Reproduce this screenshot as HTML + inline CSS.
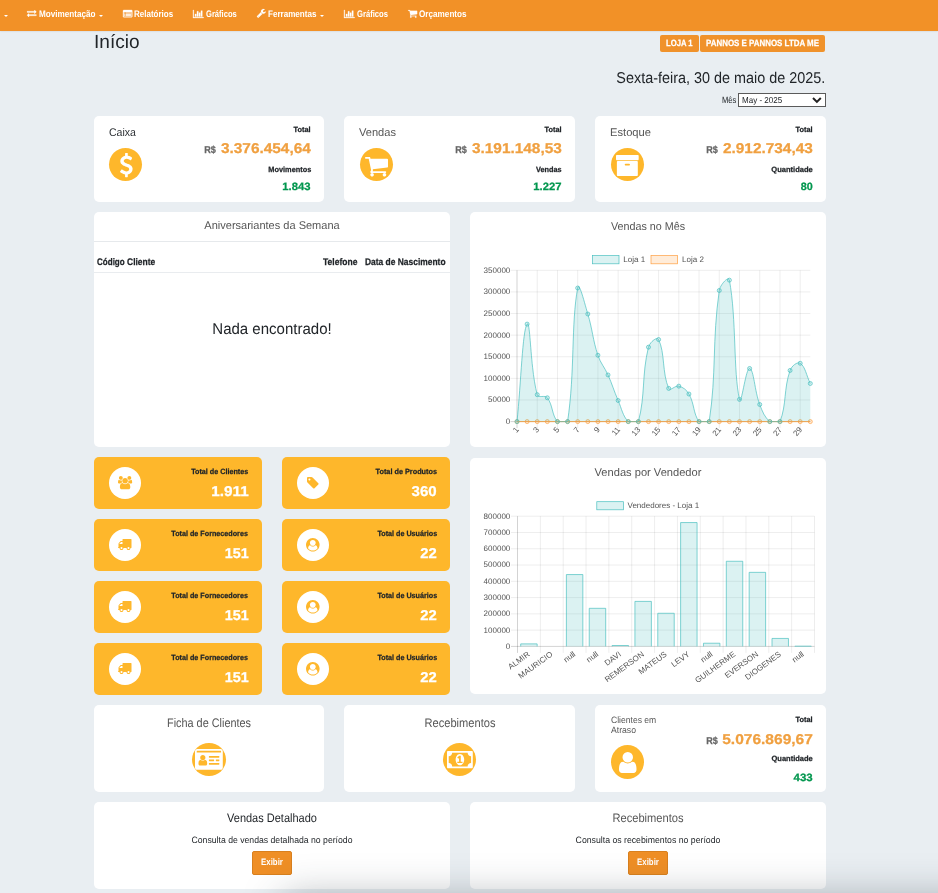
<!DOCTYPE html>
<html lang="pt-BR"><head><meta charset="utf-8"><title>Início</title>
<style>
html,body{margin:0;padding:0}
body{width:938px;height:893px;overflow:hidden;background:#e9eef2;position:relative;font-family:"Liberation Sans",sans-serif;text-rendering:geometricPrecision}
.b{position:absolute;display:block}
.t{position:absolute;white-space:nowrap;display:block}
svg.b{overflow:visible}
svg text{font-family:"Liberation Sans",sans-serif;text-rendering:geometricPrecision}
</style></head><body>
<div class="b" style="left:0;top:0;width:938px;height:30.5px;background:#f29127;box-shadow:0 0 2px rgba(0,0,0,.15)"></div>
<div class="b" style="left:3.6px;top:14.6px;width:0;height:0;border-top:2.2px solid #fff;border-left:2px solid transparent;border-right:2px solid transparent"></div>
<svg class="b" style="left:27.00px;top:10.47px" width="9.40" height="7.05" viewBox="0 -1248 1792 1344"><path transform="scale(1,-1)" fill="#fff" stroke="#fff" stroke-width="40" d="M1792 352V160Q1792 147 1782.5 137.5Q1773 128 1760 128H384V-64Q384 -77 374.5 -86.5Q365 -96 352 -96Q340 -96 328 -86L9 234Q0 243 0 256Q0 270 9 279L329 599Q338 608 352 608Q365 608 374.5 598.5Q384 589 384 576V384H1760Q1773 384 1782.5 374.5Q1792 365 1792 352ZM1783 873 1463 553Q1454 544 1440 544Q1427 544 1417.5 553.5Q1408 563 1408 576V768H32Q19 768 9.5 777.5Q0 787 0 800V992Q0 1005 9.5 1014.5Q19 1024 32 1024H1408V1216Q1408 1230 1417.0 1239.0Q1426 1248 1440 1248Q1452 1248 1464 1238L1783 919Q1792 910 1792.0 896.0Q1792 882 1783 873Z"/></svg>
<div class="t" style="left:38.60px;top:10.00px;font-size:9.5px;line-height:9.5px;color:#fff;font-weight:bold;transform:scaleX(0.8577);transform-origin:left center;">Movimentação</div>
<div class="b" style="left:99.2px;top:14.6px;width:0;height:0;border-top:2.2px solid #fff;border-left:2px solid transparent;border-right:2px solid transparent"></div>
<svg class="b" style="left:122.85px;top:9.85px" width="9.30" height="7.31" viewBox="0 -1408 1792 1408"><path transform="scale(1,-1)" fill="#fff" stroke="#fff" stroke-width="60" d="M384 352V288Q384 275 374.5 265.5Q365 256 352 256H288Q275 256 265.5 265.5Q256 275 256 288V352Q256 365 265.5 374.5Q275 384 288 384H352Q365 384 374.5 374.5Q384 365 384 352ZM384 608V544Q384 531 374.5 521.5Q365 512 352 512H288Q275 512 265.5 521.5Q256 531 256 544V608Q256 621 265.5 630.5Q275 640 288 640H352Q365 640 374.5 630.5Q384 621 384 608ZM384 864V800Q384 787 374.5 777.5Q365 768 352 768H288Q275 768 265.5 777.5Q256 787 256 800V864Q256 877 265.5 886.5Q275 896 288 896H352Q365 896 374.5 886.5Q384 877 384 864ZM1536 352V288Q1536 275 1526.5 265.5Q1517 256 1504 256H544Q531 256 521.5 265.5Q512 275 512 288V352Q512 365 521.5 374.5Q531 384 544 384H1504Q1517 384 1526.5 374.5Q1536 365 1536 352ZM1536 608V544Q1536 531 1526.5 521.5Q1517 512 1504 512H544Q531 512 521.5 521.5Q512 531 512 544V608Q512 621 521.5 630.5Q531 640 544 640H1504Q1517 640 1526.5 630.5Q1536 621 1536 608ZM1536 864V800Q1536 787 1526.5 777.5Q1517 768 1504 768H544Q531 768 521.5 777.5Q512 787 512 800V864Q512 877 521.5 886.5Q531 896 544 896H1504Q1517 896 1526.5 886.5Q1536 877 1536 864ZM1664 160V992Q1664 1005 1654.5 1014.5Q1645 1024 1632 1024H160Q147 1024 137.5 1014.5Q128 1005 128 992V160Q128 147 137.5 137.5Q147 128 160 128H1632Q1645 128 1654.5 137.5Q1664 147 1664 160ZM1792 1248V160Q1792 94 1745.0 47.0Q1698 0 1632 0H160Q94 0 47.0 47.0Q0 94 0 160V1248Q0 1314 47.0 1361.0Q94 1408 160 1408H1632Q1698 1408 1745.0 1361.0Q1792 1314 1792 1248Z"/></svg>
<div class="t" style="left:134.30px;top:10.00px;font-size:9.5px;line-height:9.5px;color:#fff;font-weight:bold;transform:scaleX(0.8416);transform-origin:left center;">Relatórios</div>
<svg class="b" style="left:193.20px;top:10.03px" width="10.60" height="7.95" viewBox="0 -1408 2048 1536"><path transform="scale(1,-1)" fill="#fff" stroke="#fff" stroke-width="60" d="M640 640V128H384V640ZM1024 1152V128H768V1152ZM2048 0V-128H0V1408H128V0ZM1408 896V128H1152V896ZM1792 1280V128H1536V1280Z"/></svg>
<div class="t" style="left:206.20px;top:10.00px;font-size:9.5px;line-height:9.5px;color:#fff;font-weight:bold;transform:scaleX(0.7991);transform-origin:left center;">Gráficos</div>
<svg class="b" style="left:257.45px;top:9.14px" width="8.70" height="8.71" viewBox="21 -1408 1641 1643"><path transform="scale(1,-1)" fill="#fff" stroke="#fff" stroke-width="30" d="M365.0 19.0Q384 38 384.0 64.0Q384 90 365.0 109.0Q346 128 320.0 128.0Q294 128 275.0 109.0Q256 90 256.0 64.0Q256 38 275.0 19.0Q294 0 320.0 0.0Q346 0 365.0 19.0ZM1028 484 346 -198Q309 -235 256 -235Q204 -235 165 -198L59 -90Q21 -54 21 0Q21 53 59 91L740 772Q779 674 854.5 598.5Q930 523 1028 484ZM1662 919Q1662 880 1639 813Q1592 679 1474.5 595.5Q1357 512 1216 512Q1031 512 899.5 643.5Q768 775 768.0 960.0Q768 1145 899.5 1276.5Q1031 1408 1216 1408Q1274 1408 1337.5 1391.5Q1401 1375 1445 1345Q1461 1334 1461.0 1317.0Q1461 1300 1445 1289L1152 1120V896L1345 789Q1350 792 1424.0 837.5Q1498 883 1559.5 918.5Q1621 954 1630 954Q1645 954 1653.5 944.0Q1662 934 1662 919Z"/></svg>
<div class="t" style="left:268.40px;top:10.00px;font-size:9.5px;line-height:9.5px;color:#fff;font-weight:bold;transform:scaleX(0.8487);transform-origin:left center;">Ferramentas</div>
<div class="b" style="left:320px;top:14.6px;width:0;height:0;border-top:2.2px solid #fff;border-left:2px solid transparent;border-right:2px solid transparent"></div>
<svg class="b" style="left:344.10px;top:10.03px" width="10.60" height="7.95" viewBox="0 -1408 2048 1536"><path transform="scale(1,-1)" fill="#fff" stroke="#fff" stroke-width="60" d="M640 640V128H384V640ZM1024 1152V128H768V1152ZM2048 0V-128H0V1408H128V0ZM1408 896V128H1152V896ZM1792 1280V128H1536V1280Z"/></svg>
<div class="t" style="left:357.20px;top:10.00px;font-size:9.5px;line-height:9.5px;color:#fff;font-weight:bold;transform:scaleX(0.8043);transform-origin:left center;">Gráficos</div>
<svg class="b" style="left:408.40px;top:9.61px" width="9.20" height="7.78" viewBox="0.0 -1280 1664.0 1408.0"><path transform="scale(1,-1)" fill="#fff" stroke="#fff" stroke-width="30" d="M602.0 90.0Q640 52 640.0 0.0Q640 -52 602.0 -90.0Q564 -128 512.0 -128.0Q460 -128 422.0 -90.0Q384 -52 384.0 0.0Q384 52 422.0 90.0Q460 128 512.0 128.0Q564 128 602.0 90.0ZM1498.0 90.0Q1536 52 1536.0 0.0Q1536 -52 1498.0 -90.0Q1460 -128 1408.0 -128.0Q1356 -128 1318.0 -90.0Q1280 -52 1280.0 0.0Q1280 52 1318.0 90.0Q1356 128 1408.0 128.0Q1460 128 1498.0 90.0ZM1664 1088V576Q1664 552 1647.5 533.5Q1631 515 1607 512L563 390Q576 330 576 320Q576 304 552 256H1472Q1498 256 1517.0 237.0Q1536 218 1536.0 192.0Q1536 166 1517.0 147.0Q1498 128 1472 128H448Q422 128 403.0 147.0Q384 166 384 192Q384 203 392.0 223.5Q400 244 408.0 259.5Q416 275 429.5 299.5Q443 324 445 329L268 1152H64Q38 1152 19.0 1171.0Q0 1190 0.0 1216.0Q0 1242 19.0 1261.0Q38 1280 64 1280H320Q336 1280 348.5 1273.5Q361 1267 368.0 1258.0Q375 1249 381.0 1233.5Q387 1218 389.0 1207.5Q391 1197 394.5 1178.0Q398 1159 399 1152H1600Q1626 1152 1645.0 1133.0Q1664 1114 1664 1088Z"/></svg>
<div class="t" style="left:419.10px;top:10.00px;font-size:9.5px;line-height:9.5px;color:#fff;font-weight:bold;transform:scaleX(0.8586);transform-origin:left center;">Orçamentos</div>
<div class="t" style="left:94.20px;top:33.00px;font-size:19.0px;line-height:19.0px;color:#212529;transform:scaleX(1.0019);transform-origin:left center;">Início</div>
<div class="b" style="left:660px;top:35px;width:39px;height:17px;background:#f0922b;border-radius:2px;"></div>
<div class="t" style="left:666.00px;top:39.00px;font-size:9.0px;line-height:9.0px;color:#fff;font-weight:bold;-webkit-text-stroke:0.25px;transform:scaleX(0.8532);transform-origin:left center;">LOJA 1</div>
<div class="b" style="left:700px;top:35px;width:125px;height:17px;background:#f0922b;border-radius:2px;"></div>
<div class="t" style="left:706.00px;top:39.00px;font-size:9.0px;line-height:9.0px;color:#fff;font-weight:bold;-webkit-text-stroke:0.25px;transform:scaleX(0.8816);transform-origin:left center;">PANNOS E PANNOS LTDA ME</div>
<div class="t" style="right:112.30px;top:71.00px;font-size:15.6px;line-height:15.6px;color:#212529;transform:scaleX(0.9233);transform-origin:right center;">Sexta-feira, 30 de maio de 2025.</div>
<div class="t" style="left:721.50px;top:96.00px;font-size:9.0px;line-height:9.0px;color:#212529;transform:scaleX(0.8410);transform-origin:left center;">Mês</div>
<div class="b" style="left:738px;top:93px;width:88px;height:14px;background:#fff;border:1px solid #5a5a5a;box-sizing:border-box"></div>
<div class="t" style="left:742.00px;top:96.00px;font-size:8.6px;line-height:8.6px;color:#212529;transform:scaleX(0.9344);transform-origin:left center;">May - 2025</div>
<svg class="b" style="left:812.2px;top:97.4px" width="9.8" height="6.4" viewBox="0 0 9.8 6.4"><path d="M1 1 L4.9 4.9 L8.8 1" fill="none" stroke="#222" stroke-width="2"/></svg>
<div class="b" style="left:94px;top:116px;width:230px;height:86px;background:#fff;border-radius:5px;"></div>
<div class="t" style="left:109.10px;top:128.00px;font-size:11.2px;line-height:11.2px;color:#2b2f33;transform:scaleX(0.9429);transform-origin:left center;">Caixa</div>
<div class="b" style="left:108.90px;top:147.90px;width:33.20px;height:33.20px;border-radius:50%;background:#feb72b"></div>
<svg class="b" style="left:119.50px;top:153.20px" width="12.60" height="24.20" viewBox="44.96875 -1536 933.03125 1792"><path transform="scale(1,-1)" fill="#fff" d="M978 351Q978 198 878.5 87.5Q779 -23 620 -49V-224Q620 -238 611.0 -247.0Q602 -256 588 -256H453Q440 -256 430.5 -246.5Q421 -237 421 -224V-49Q355 -40 293.5 -18.0Q232 4 192.0 26.5Q152 49 118.0 74.5Q84 100 71.5 112.0Q59 124 54 130Q37 151 52 171L155 306Q162 316 178 318Q193 320 202 309Q202 309 204 307Q317 208 447 182Q484 174 521 174Q602 174 663.5 217.0Q725 260 725 339Q725 367 710.0 392.0Q695 417 676.5 434.0Q658 451 618.0 471.5Q578 492 552.0 503.5Q526 515 472 536Q433 552 410.5 561.0Q388 570 349.0 587.5Q310 605 286.5 618.5Q263 632 230.0 654.0Q197 676 176.5 696.5Q156 717 133.0 745.5Q110 774 97.5 803.5Q85 833 76.5 870.0Q68 907 68 948Q68 1086 166.0 1190.0Q264 1294 421 1324V1504Q421 1517 430.5 1526.5Q440 1536 453 1536H588Q602 1536 611.0 1527.0Q620 1518 620 1504V1328Q677 1322 730.5 1305.0Q784 1288 817.5 1271.5Q851 1255 881.0 1234.0Q911 1213 920.0 1205.0Q929 1197 935 1191Q952 1173 940 1153L859 1007Q851 992 836 991Q822 988 809 998Q806 1001 794.5 1010.0Q783 1019 755.5 1036.5Q728 1054 697.0 1068.5Q666 1083 622.5 1094.5Q579 1106 537 1106Q442 1106 382.0 1063.0Q322 1020 322 952Q322 926 330.5 904.0Q339 882 360.0 862.5Q381 843 399.5 829.5Q418 816 455.5 798.5Q493 781 516.0 771.5Q539 762 586 744Q639 724 667.0 712.5Q695 701 743.0 677.5Q791 654 818.5 635.0Q846 616 880.5 585.0Q915 554 933.5 521.5Q952 489 965.0 445.0Q978 401 978 351Z"/></svg>
<div class="t" style="right:627.00px;top:126.00px;font-size:7.6px;line-height:7.6px;color:#212529;font-weight:bold;-webkit-text-stroke:0.25px;transform:scaleX(0.9664);transform-origin:right center;">Total</div>
<div class="t" style="right:627.00px;top:142.00px;font-size:14.2px;line-height:14.2px;color:#f0a040;font-weight:bold;-webkit-text-stroke:0.25px;transform:scaleX(1.0855);transform-origin:right center;">3.376.454,64</div>
<div class="t" style="right:722.00px;top:146.00px;font-size:10.0px;line-height:10.0px;color:#666;font-weight:bold;-webkit-text-stroke:0.25px;transform:scaleX(0.9074);transform-origin:right center;">R$</div>
<div class="t" style="right:627.00px;top:166.00px;font-size:7.6px;line-height:7.6px;color:#212529;font-weight:bold;-webkit-text-stroke:0.25px;transform:scaleX(0.9698);transform-origin:right center;">Movimentos</div>
<div class="t" style="right:627.00px;top:182.00px;font-size:10.6px;line-height:10.6px;color:#00964e;font-weight:bold;-webkit-text-stroke:0.25px;transform:scaleX(1.0631);transform-origin:right center;">1.843</div>
<div class="b" style="left:344px;top:116px;width:231px;height:86px;background:#fff;border-radius:5px;"></div>
<div class="t" style="left:359.10px;top:128.00px;font-size:11.2px;line-height:11.2px;color:#555;transform:scaleX(0.9901);transform-origin:left center;">Vendas</div>
<div class="b" style="left:359.90px;top:147.90px;width:33.20px;height:33.20px;border-radius:50%;background:#feb72b"></div>
<svg class="b" style="left:365.00px;top:156.57px" width="23.00" height="19.46" viewBox="0.0 -1280 1664.0 1408.0"><path transform="scale(1,-1)" fill="#fff" d="M602.0 90.0Q640 52 640.0 0.0Q640 -52 602.0 -90.0Q564 -128 512.0 -128.0Q460 -128 422.0 -90.0Q384 -52 384.0 0.0Q384 52 422.0 90.0Q460 128 512.0 128.0Q564 128 602.0 90.0ZM1498.0 90.0Q1536 52 1536.0 0.0Q1536 -52 1498.0 -90.0Q1460 -128 1408.0 -128.0Q1356 -128 1318.0 -90.0Q1280 -52 1280.0 0.0Q1280 52 1318.0 90.0Q1356 128 1408.0 128.0Q1460 128 1498.0 90.0ZM1664 1088V576Q1664 552 1647.5 533.5Q1631 515 1607 512L563 390Q576 330 576 320Q576 304 552 256H1472Q1498 256 1517.0 237.0Q1536 218 1536.0 192.0Q1536 166 1517.0 147.0Q1498 128 1472 128H448Q422 128 403.0 147.0Q384 166 384 192Q384 203 392.0 223.5Q400 244 408.0 259.5Q416 275 429.5 299.5Q443 324 445 329L268 1152H64Q38 1152 19.0 1171.0Q0 1190 0.0 1216.0Q0 1242 19.0 1261.0Q38 1280 64 1280H320Q336 1280 348.5 1273.5Q361 1267 368.0 1258.0Q375 1249 381.0 1233.5Q387 1218 389.0 1207.5Q391 1197 394.5 1178.0Q398 1159 399 1152H1600Q1626 1152 1645.0 1133.0Q1664 1114 1664 1088Z"/></svg>
<div class="t" style="right:376.00px;top:126.00px;font-size:7.6px;line-height:7.6px;color:#212529;font-weight:bold;-webkit-text-stroke:0.25px;transform:scaleX(0.9664);transform-origin:right center;">Total</div>
<div class="t" style="right:376.00px;top:142.00px;font-size:14.2px;line-height:14.2px;color:#f0a040;font-weight:bold;-webkit-text-stroke:0.25px;transform:scaleX(1.0855);transform-origin:right center;">3.191.148,53</div>
<div class="t" style="right:471.00px;top:146.00px;font-size:10.0px;line-height:10.0px;color:#666;font-weight:bold;-webkit-text-stroke:0.25px;transform:scaleX(0.9074);transform-origin:right center;">R$</div>
<div class="t" style="right:376.00px;top:166.00px;font-size:7.6px;line-height:7.6px;color:#212529;font-weight:bold;-webkit-text-stroke:0.25px;transform:scaleX(0.9618);transform-origin:right center;">Vendas</div>
<div class="t" style="right:376.00px;top:182.00px;font-size:10.6px;line-height:10.6px;color:#00964e;font-weight:bold;-webkit-text-stroke:0.25px;transform:scaleX(1.0631);transform-origin:right center;">1.227</div>
<div class="b" style="left:595px;top:116px;width:231px;height:86px;background:#fff;border-radius:5px;"></div>
<div class="t" style="left:610.10px;top:128.00px;font-size:11.2px;line-height:11.2px;color:#555;transform:scaleX(0.9976);transform-origin:left center;">Estoque</div>
<div class="b" style="left:610.80px;top:147.90px;width:33.20px;height:33.20px;border-radius:50%;background:#feb72b"></div>
<svg class="b" style="left:615.95px;top:155.02px" width="22.70" height="20.95" viewBox="64 -1408 1664 1536"><path transform="scale(1,-1)" fill="#fff" d="M1024 768H768Q742 768 723.0 749.0Q704 730 704.0 704.0Q704 678 723.0 659.0Q742 640 768 640H1024Q1050 640 1069.0 659.0Q1088 678 1088.0 704.0Q1088 730 1069.0 749.0Q1050 768 1024 768ZM1664 896V-64Q1664 -90 1645.0 -109.0Q1626 -128 1600 -128H192Q166 -128 147.0 -109.0Q128 -90 128 -64V896Q128 922 147.0 941.0Q166 960 192 960H1600Q1626 960 1645.0 941.0Q1664 922 1664 896ZM1728 1344V1088Q1728 1062 1709.0 1043.0Q1690 1024 1664 1024H128Q102 1024 83.0 1043.0Q64 1062 64 1088V1344Q64 1370 83.0 1389.0Q102 1408 128 1408H1664Q1690 1408 1709.0 1389.0Q1728 1370 1728 1344Z"/></svg>
<div class="t" style="right:125.00px;top:126.00px;font-size:7.6px;line-height:7.6px;color:#212529;font-weight:bold;-webkit-text-stroke:0.25px;transform:scaleX(0.9664);transform-origin:right center;">Total</div>
<div class="t" style="right:125.00px;top:142.00px;font-size:14.2px;line-height:14.2px;color:#f0a040;font-weight:bold;-webkit-text-stroke:0.25px;transform:scaleX(1.0855);transform-origin:right center;">2.912.734,43</div>
<div class="t" style="right:220.00px;top:146.00px;font-size:10.0px;line-height:10.0px;color:#666;font-weight:bold;-webkit-text-stroke:0.25px;transform:scaleX(0.9074);transform-origin:right center;">R$</div>
<div class="t" style="right:125.00px;top:166.00px;font-size:7.6px;line-height:7.6px;color:#212529;font-weight:bold;-webkit-text-stroke:0.25px;transform:scaleX(0.9927);transform-origin:right center;">Quantidade</div>
<div class="t" style="right:125.00px;top:182.00px;font-size:10.6px;line-height:10.6px;color:#00964e;font-weight:bold;-webkit-text-stroke:0.25px;transform:scaleX(1.0177);transform-origin:right center;">80</div>
<div class="b" style="left:94px;top:212px;width:356px;height:235px;background:#fff;border-radius:5px;"></div>
<div class="t" style="left:-228.00px;width:1000px;text-align:center;top:221.00px;font-size:11.2px;line-height:11.2px;color:#555;transform:scaleX(0.9848);transform-origin:center center;">Aniversariantes da Semana</div>
<div class="b" style="left:94px;top:241px;width:356px;height:1px;background:#e6e9ec"></div>
<div class="t" style="left:97.10px;top:258.00px;font-size:9.6px;line-height:9.6px;color:#212529;font-weight:bold;-webkit-text-stroke:0.25px;transform:scaleX(0.8379);transform-origin:left center;">Código</div>
<div class="t" style="left:126.90px;top:258.00px;font-size:9.6px;line-height:9.6px;color:#212529;font-weight:bold;-webkit-text-stroke:0.25px;transform:scaleX(0.8842);transform-origin:left center;">Cliente</div>
<div class="t" style="left:322.70px;top:258.00px;font-size:9.6px;line-height:9.6px;color:#212529;font-weight:bold;-webkit-text-stroke:0.25px;transform:scaleX(0.8875);transform-origin:left center;">Telefone</div>
<div class="t" style="left:365.20px;top:258.00px;font-size:9.6px;line-height:9.6px;color:#212529;font-weight:bold;-webkit-text-stroke:0.25px;transform:scaleX(0.8783);transform-origin:left center;">Data de Nascimento</div>
<div class="b" style="left:94px;top:272px;width:356px;height:1px;background:#e9ecef"></div>
<div class="t" style="left:-228.00px;width:1000px;text-align:center;top:322.00px;font-size:15.6px;line-height:15.6px;color:#212529;transform:scaleX(0.9627);transform-origin:center center;">Nada encontrado!</div>
<div class="b" style="left:94px;top:457px;width:168px;height:52px;background:#feb72b;border-radius:5px;"></div>
<div class="b" style="left:109.00px;top:467.00px;width:32.00px;height:32.00px;border-radius:50%;background:#fff"></div>
<svg class="b" style="left:117.90px;top:475.87px" width="14.20" height="13.25" viewBox="0 -1536.0 1920 1792.0"><path transform="scale(1,-1)" fill="#feb72b" d="M593 640Q431 635 328 512H194Q112 512 56.0 552.5Q0 593 0 671Q0 1024 124 1024Q130 1024 167.5 1003.0Q205 982 265.0 960.5Q325 939 384 939Q451 939 517 962Q512 925 512 896Q512 757 593 640ZM1664 3Q1664 -117 1591.0 -186.5Q1518 -256 1397 -256H523Q402 -256 329.0 -186.5Q256 -117 256 3Q256 56 259.5 106.5Q263 157 273.5 215.5Q284 274 300.0 324.0Q316 374 343.0 421.5Q370 469 405.0 502.5Q440 536 490.5 556.0Q541 576 602 576Q612 576 645.0 554.5Q678 533 718.0 506.5Q758 480 825.0 458.5Q892 437 960.0 437.0Q1028 437 1095.0 458.5Q1162 480 1202.0 506.5Q1242 533 1275.0 554.5Q1308 576 1318 576Q1379 576 1429.5 556.0Q1480 536 1515.0 502.5Q1550 469 1577.0 421.5Q1604 374 1620.0 324.0Q1636 274 1646.5 215.5Q1657 157 1660.5 106.5Q1664 56 1664 3ZM565.0 1461.0Q640 1386 640.0 1280.0Q640 1174 565.0 1099.0Q490 1024 384.0 1024.0Q278 1024 203.0 1099.0Q128 1174 128.0 1280.0Q128 1386 203.0 1461.0Q278 1536 384.0 1536.0Q490 1536 565.0 1461.0ZM1231.5 1167.5Q1344 1055 1344.0 896.0Q1344 737 1231.5 624.5Q1119 512 960.0 512.0Q801 512 688.5 624.5Q576 737 576.0 896.0Q576 1055 688.5 1167.5Q801 1280 960.0 1280.0Q1119 1280 1231.5 1167.5ZM1920 671Q1920 593 1864.0 552.5Q1808 512 1726 512H1592Q1489 635 1327 640Q1408 757 1408 896Q1408 925 1403 962Q1469 939 1536 939Q1595 939 1655.0 960.5Q1715 982 1752.5 1003.0Q1790 1024 1796 1024Q1920 1024 1920 671ZM1717.0 1461.0Q1792 1386 1792.0 1280.0Q1792 1174 1717.0 1099.0Q1642 1024 1536.0 1024.0Q1430 1024 1355.0 1099.0Q1280 1174 1280.0 1280.0Q1280 1386 1355.0 1461.0Q1430 1536 1536.0 1536.0Q1642 1536 1717.0 1461.0Z"/></svg>
<div class="t" style="right:690.00px;top:468.00px;font-size:7.6px;line-height:7.6px;color:#212529;font-weight:bold;-webkit-text-stroke:0.25px;transform:scaleX(0.9477);transform-origin:right center;">Total de Clientes</div>
<div class="t" style="right:689.70px;top:485.00px;font-size:14.2px;line-height:14.2px;color:#fff;font-weight:bold;-webkit-text-stroke:0.25px;transform:scaleX(1.0791);transform-origin:right center;">1.911</div>
<div class="b" style="left:282px;top:457px;width:168px;height:52px;background:#feb72b;border-radius:5px;"></div>
<div class="b" style="left:297.00px;top:467.00px;width:32.00px;height:32.00px;border-radius:50%;background:#fff"></div>
<svg class="b" style="left:307.20px;top:476.70px" width="11.60" height="11.60" viewBox="0 -1408 1515 1515"><path transform="scale(1,-1)" fill="#feb72b" d="M410.5 997.5Q448 1035 448.0 1088.0Q448 1141 410.5 1178.5Q373 1216 320.0 1216.0Q267 1216 229.5 1178.5Q192 1141 192.0 1088.0Q192 1035 229.5 997.5Q267 960 320.0 960.0Q373 960 410.5 997.5ZM1515 512Q1515 459 1478 422L987 -70Q948 -107 896 -107Q843 -107 806 -70L91 646Q53 683 26.5 747.0Q0 811 0 864V1280Q0 1332 38.0 1370.0Q76 1408 128 1408H544Q597 1408 661.0 1381.5Q725 1355 763 1317L1478 603Q1515 564 1515 512Z"/></svg>
<div class="t" style="right:501.30px;top:468.00px;font-size:7.6px;line-height:7.6px;color:#212529;font-weight:bold;-webkit-text-stroke:0.25px;transform:scaleX(0.9604);transform-origin:right center;">Total de Produtos</div>
<div class="t" style="right:501.00px;top:485.00px;font-size:14.2px;line-height:14.2px;color:#fff;font-weight:bold;-webkit-text-stroke:0.25px;transform:scaleX(1.0594);transform-origin:right center;">360</div>
<div class="b" style="left:94px;top:519px;width:168px;height:52px;background:#feb72b;border-radius:5px;"></div>
<div class="b" style="left:109.00px;top:529.00px;width:32.00px;height:32.00px;border-radius:50%;background:#fff"></div>
<svg class="b" style="left:118.25px;top:539.00px" width="13.50" height="11.00" viewBox="64 -1280 1728 1408.0"><path transform="scale(1,-1)" fill="#feb72b" d="M602.0 38.0Q640 76 640.0 128.0Q640 180 602.0 218.0Q564 256 512.0 256.0Q460 256 422.0 218.0Q384 180 384.0 128.0Q384 76 422.0 38.0Q460 0 512.0 0.0Q564 0 602.0 38.0ZM256 640H640V896H482Q469 896 460 887L265 692Q256 683 256 670ZM1498.0 38.0Q1536 76 1536.0 128.0Q1536 180 1498.0 218.0Q1460 256 1408.0 256.0Q1356 256 1318.0 218.0Q1280 180 1280.0 128.0Q1280 76 1318.0 38.0Q1356 0 1408.0 0.0Q1460 0 1498.0 38.0ZM1792 1216V192Q1792 177 1788.0 165.5Q1784 154 1774.5 147.0Q1765 140 1758.0 135.5Q1751 131 1734.5 129.5Q1718 128 1712.0 127.5Q1706 127 1686.5 127.5Q1667 128 1664 128Q1664 22 1589.0 -53.0Q1514 -128 1408.0 -128.0Q1302 -128 1227.0 -53.0Q1152 22 1152 128H768Q768 22 693.0 -53.0Q618 -128 512.0 -128.0Q406 -128 331.0 -53.0Q256 22 256 128H192Q189 128 169.5 127.5Q150 127 144.0 127.5Q138 128 121.5 129.5Q105 131 98.0 135.5Q91 140 81.5 147.0Q72 154 68.0 165.5Q64 177 64 192Q64 218 83.0 237.0Q102 256 128 256V576Q128 584 127.5 611.0Q127 638 127.5 649.0Q128 660 130.0 683.5Q132 707 136.5 720.5Q141 734 150.5 751.0Q160 768 173 781L371 979Q390 998 421.5 1011.0Q453 1024 480 1024H640V1216Q640 1242 659.0 1261.0Q678 1280 704 1280H1728Q1754 1280 1773.0 1261.0Q1792 1242 1792 1216Z"/></svg>
<div class="t" style="right:690.00px;top:530.00px;font-size:7.6px;line-height:7.6px;color:#212529;font-weight:bold;-webkit-text-stroke:0.25px;transform:scaleX(0.9463);transform-origin:right center;">Total de Fornecedores</div>
<div class="t" style="right:689.70px;top:547.00px;font-size:14.2px;line-height:14.2px;color:#fff;font-weight:bold;-webkit-text-stroke:0.25px;transform:scaleX(1.0130);transform-origin:right center;">151</div>
<div class="b" style="left:282px;top:519px;width:168px;height:52px;background:#feb72b;border-radius:5px;"></div>
<div class="b" style="left:297.00px;top:529.00px;width:32.00px;height:32.00px;border-radius:50%;background:#fff"></div>
<svg class="b" style="left:306.20px;top:537.70px" width="13.60" height="13.60" viewBox="0.0 -1536.0 1792.0 1792.0"><path transform="scale(1,-1)" fill="#feb72b" d="M1523 197Q1501 352 1435.5 454.5Q1370 557 1251 573Q1184 499 1091.5 457.5Q999 416 896.0 416.0Q793 416 700.5 457.5Q608 499 541 573Q422 557 356.5 454.5Q291 352 269 197Q375 47 540.0 -40.5Q705 -128 896.0 -128.0Q1087 -128 1252.0 -40.5Q1417 47 1523 197ZM1167.5 624.5Q1280 737 1280.0 896.0Q1280 1055 1167.5 1167.5Q1055 1280 896.0 1280.0Q737 1280 624.5 1167.5Q512 1055 512.0 896.0Q512 737 624.5 624.5Q737 512 896.0 512.0Q1055 512 1167.5 624.5ZM896 -256Q714 -256 548.0 -185.0Q382 -114 262.0 6.0Q142 126 71.0 292.0Q0 458 0.0 640.0Q0 822 71.0 988.0Q142 1154 262.0 1274.0Q382 1394 548.0 1465.0Q714 1536 896.0 1536.0Q1078 1536 1244.0 1465.0Q1410 1394 1530.0 1274.0Q1650 1154 1721.0 988.0Q1792 822 1792.0 640.0Q1792 458 1721.0 292.5Q1650 127 1530.5 6.5Q1411 -114 1245.0 -185.0Q1079 -256 896 -256Z"/></svg>
<div class="t" style="right:501.30px;top:530.00px;font-size:7.6px;line-height:7.6px;color:#212529;font-weight:bold;-webkit-text-stroke:0.25px;transform:scaleX(0.9461);transform-origin:right center;">Total de Usuários</div>
<div class="t" style="right:501.00px;top:547.00px;font-size:14.2px;line-height:14.2px;color:#fff;font-weight:bold;-webkit-text-stroke:0.25px;transform:scaleX(1.0446);transform-origin:right center;">22</div>
<div class="b" style="left:94px;top:581px;width:168px;height:52px;background:#feb72b;border-radius:5px;"></div>
<div class="b" style="left:109.00px;top:591.00px;width:32.00px;height:32.00px;border-radius:50%;background:#fff"></div>
<svg class="b" style="left:118.25px;top:601.00px" width="13.50" height="11.00" viewBox="64 -1280 1728 1408.0"><path transform="scale(1,-1)" fill="#feb72b" d="M602.0 38.0Q640 76 640.0 128.0Q640 180 602.0 218.0Q564 256 512.0 256.0Q460 256 422.0 218.0Q384 180 384.0 128.0Q384 76 422.0 38.0Q460 0 512.0 0.0Q564 0 602.0 38.0ZM256 640H640V896H482Q469 896 460 887L265 692Q256 683 256 670ZM1498.0 38.0Q1536 76 1536.0 128.0Q1536 180 1498.0 218.0Q1460 256 1408.0 256.0Q1356 256 1318.0 218.0Q1280 180 1280.0 128.0Q1280 76 1318.0 38.0Q1356 0 1408.0 0.0Q1460 0 1498.0 38.0ZM1792 1216V192Q1792 177 1788.0 165.5Q1784 154 1774.5 147.0Q1765 140 1758.0 135.5Q1751 131 1734.5 129.5Q1718 128 1712.0 127.5Q1706 127 1686.5 127.5Q1667 128 1664 128Q1664 22 1589.0 -53.0Q1514 -128 1408.0 -128.0Q1302 -128 1227.0 -53.0Q1152 22 1152 128H768Q768 22 693.0 -53.0Q618 -128 512.0 -128.0Q406 -128 331.0 -53.0Q256 22 256 128H192Q189 128 169.5 127.5Q150 127 144.0 127.5Q138 128 121.5 129.5Q105 131 98.0 135.5Q91 140 81.5 147.0Q72 154 68.0 165.5Q64 177 64 192Q64 218 83.0 237.0Q102 256 128 256V576Q128 584 127.5 611.0Q127 638 127.5 649.0Q128 660 130.0 683.5Q132 707 136.5 720.5Q141 734 150.5 751.0Q160 768 173 781L371 979Q390 998 421.5 1011.0Q453 1024 480 1024H640V1216Q640 1242 659.0 1261.0Q678 1280 704 1280H1728Q1754 1280 1773.0 1261.0Q1792 1242 1792 1216Z"/></svg>
<div class="t" style="right:690.00px;top:592.00px;font-size:7.6px;line-height:7.6px;color:#212529;font-weight:bold;-webkit-text-stroke:0.25px;transform:scaleX(0.9463);transform-origin:right center;">Total de Fornecedores</div>
<div class="t" style="right:689.70px;top:609.00px;font-size:14.2px;line-height:14.2px;color:#fff;font-weight:bold;-webkit-text-stroke:0.25px;transform:scaleX(1.0130);transform-origin:right center;">151</div>
<div class="b" style="left:282px;top:581px;width:168px;height:52px;background:#feb72b;border-radius:5px;"></div>
<div class="b" style="left:297.00px;top:591.00px;width:32.00px;height:32.00px;border-radius:50%;background:#fff"></div>
<svg class="b" style="left:306.20px;top:599.70px" width="13.60" height="13.60" viewBox="0.0 -1536.0 1792.0 1792.0"><path transform="scale(1,-1)" fill="#feb72b" d="M1523 197Q1501 352 1435.5 454.5Q1370 557 1251 573Q1184 499 1091.5 457.5Q999 416 896.0 416.0Q793 416 700.5 457.5Q608 499 541 573Q422 557 356.5 454.5Q291 352 269 197Q375 47 540.0 -40.5Q705 -128 896.0 -128.0Q1087 -128 1252.0 -40.5Q1417 47 1523 197ZM1167.5 624.5Q1280 737 1280.0 896.0Q1280 1055 1167.5 1167.5Q1055 1280 896.0 1280.0Q737 1280 624.5 1167.5Q512 1055 512.0 896.0Q512 737 624.5 624.5Q737 512 896.0 512.0Q1055 512 1167.5 624.5ZM896 -256Q714 -256 548.0 -185.0Q382 -114 262.0 6.0Q142 126 71.0 292.0Q0 458 0.0 640.0Q0 822 71.0 988.0Q142 1154 262.0 1274.0Q382 1394 548.0 1465.0Q714 1536 896.0 1536.0Q1078 1536 1244.0 1465.0Q1410 1394 1530.0 1274.0Q1650 1154 1721.0 988.0Q1792 822 1792.0 640.0Q1792 458 1721.0 292.5Q1650 127 1530.5 6.5Q1411 -114 1245.0 -185.0Q1079 -256 896 -256Z"/></svg>
<div class="t" style="right:501.30px;top:592.00px;font-size:7.6px;line-height:7.6px;color:#212529;font-weight:bold;-webkit-text-stroke:0.25px;transform:scaleX(0.9461);transform-origin:right center;">Total de Usuários</div>
<div class="t" style="right:501.00px;top:609.00px;font-size:14.2px;line-height:14.2px;color:#fff;font-weight:bold;-webkit-text-stroke:0.25px;transform:scaleX(1.0446);transform-origin:right center;">22</div>
<div class="b" style="left:94px;top:643px;width:168px;height:52px;background:#feb72b;border-radius:5px;"></div>
<div class="b" style="left:109.00px;top:653.00px;width:32.00px;height:32.00px;border-radius:50%;background:#fff"></div>
<svg class="b" style="left:118.25px;top:663.00px" width="13.50" height="11.00" viewBox="64 -1280 1728 1408.0"><path transform="scale(1,-1)" fill="#feb72b" d="M602.0 38.0Q640 76 640.0 128.0Q640 180 602.0 218.0Q564 256 512.0 256.0Q460 256 422.0 218.0Q384 180 384.0 128.0Q384 76 422.0 38.0Q460 0 512.0 0.0Q564 0 602.0 38.0ZM256 640H640V896H482Q469 896 460 887L265 692Q256 683 256 670ZM1498.0 38.0Q1536 76 1536.0 128.0Q1536 180 1498.0 218.0Q1460 256 1408.0 256.0Q1356 256 1318.0 218.0Q1280 180 1280.0 128.0Q1280 76 1318.0 38.0Q1356 0 1408.0 0.0Q1460 0 1498.0 38.0ZM1792 1216V192Q1792 177 1788.0 165.5Q1784 154 1774.5 147.0Q1765 140 1758.0 135.5Q1751 131 1734.5 129.5Q1718 128 1712.0 127.5Q1706 127 1686.5 127.5Q1667 128 1664 128Q1664 22 1589.0 -53.0Q1514 -128 1408.0 -128.0Q1302 -128 1227.0 -53.0Q1152 22 1152 128H768Q768 22 693.0 -53.0Q618 -128 512.0 -128.0Q406 -128 331.0 -53.0Q256 22 256 128H192Q189 128 169.5 127.5Q150 127 144.0 127.5Q138 128 121.5 129.5Q105 131 98.0 135.5Q91 140 81.5 147.0Q72 154 68.0 165.5Q64 177 64 192Q64 218 83.0 237.0Q102 256 128 256V576Q128 584 127.5 611.0Q127 638 127.5 649.0Q128 660 130.0 683.5Q132 707 136.5 720.5Q141 734 150.5 751.0Q160 768 173 781L371 979Q390 998 421.5 1011.0Q453 1024 480 1024H640V1216Q640 1242 659.0 1261.0Q678 1280 704 1280H1728Q1754 1280 1773.0 1261.0Q1792 1242 1792 1216Z"/></svg>
<div class="t" style="right:690.00px;top:654.00px;font-size:7.6px;line-height:7.6px;color:#212529;font-weight:bold;-webkit-text-stroke:0.25px;transform:scaleX(0.9463);transform-origin:right center;">Total de Fornecedores</div>
<div class="t" style="right:689.70px;top:671.00px;font-size:14.2px;line-height:14.2px;color:#fff;font-weight:bold;-webkit-text-stroke:0.25px;transform:scaleX(1.0130);transform-origin:right center;">151</div>
<div class="b" style="left:282px;top:643px;width:168px;height:52px;background:#feb72b;border-radius:5px;"></div>
<div class="b" style="left:297.00px;top:653.00px;width:32.00px;height:32.00px;border-radius:50%;background:#fff"></div>
<svg class="b" style="left:306.20px;top:661.70px" width="13.60" height="13.60" viewBox="0.0 -1536.0 1792.0 1792.0"><path transform="scale(1,-1)" fill="#feb72b" d="M1523 197Q1501 352 1435.5 454.5Q1370 557 1251 573Q1184 499 1091.5 457.5Q999 416 896.0 416.0Q793 416 700.5 457.5Q608 499 541 573Q422 557 356.5 454.5Q291 352 269 197Q375 47 540.0 -40.5Q705 -128 896.0 -128.0Q1087 -128 1252.0 -40.5Q1417 47 1523 197ZM1167.5 624.5Q1280 737 1280.0 896.0Q1280 1055 1167.5 1167.5Q1055 1280 896.0 1280.0Q737 1280 624.5 1167.5Q512 1055 512.0 896.0Q512 737 624.5 624.5Q737 512 896.0 512.0Q1055 512 1167.5 624.5ZM896 -256Q714 -256 548.0 -185.0Q382 -114 262.0 6.0Q142 126 71.0 292.0Q0 458 0.0 640.0Q0 822 71.0 988.0Q142 1154 262.0 1274.0Q382 1394 548.0 1465.0Q714 1536 896.0 1536.0Q1078 1536 1244.0 1465.0Q1410 1394 1530.0 1274.0Q1650 1154 1721.0 988.0Q1792 822 1792.0 640.0Q1792 458 1721.0 292.5Q1650 127 1530.5 6.5Q1411 -114 1245.0 -185.0Q1079 -256 896 -256Z"/></svg>
<div class="t" style="right:501.30px;top:654.00px;font-size:7.6px;line-height:7.6px;color:#212529;font-weight:bold;-webkit-text-stroke:0.25px;transform:scaleX(0.9461);transform-origin:right center;">Total de Usuários</div>
<div class="t" style="right:501.00px;top:671.00px;font-size:14.2px;line-height:14.2px;color:#fff;font-weight:bold;-webkit-text-stroke:0.25px;transform:scaleX(1.0446);transform-origin:right center;">22</div>
<div class="b" style="left:470px;top:212px;width:356px;height:235px;background:#fff;border-radius:5px;"></div>
<div class="t" style="left:148.00px;width:1000px;text-align:center;top:222.00px;font-size:11.2px;line-height:11.2px;color:#555;transform:scaleX(0.9610);transform-origin:center center;">Vendas no Mês</div>
<div class="b" style="left:470px;top:458px;width:356px;height:236px;background:#fff;border-radius:5px;"></div>
<div class="t" style="left:148.00px;width:1000px;text-align:center;top:468.00px;font-size:11.2px;line-height:11.2px;color:#555;transform:scaleX(0.9931);transform-origin:center center;">Vendas por Vendedor</div>
<div class="b" style="left:94px;top:705px;width:230px;height:87px;background:#fff;border-radius:5px;"></div>
<div class="t" style="left:-291.00px;width:1000px;text-align:center;top:717.00px;font-size:12.4px;line-height:12.4px;color:#555;transform:scaleX(0.8768);transform-origin:center center;">Ficha de Clientes</div>
<div class="b" style="left:192.20px;top:743.00px;width:33.80px;height:33.00px;border-radius:50%;background:#feb72b"></div>
<svg class="b" style="left:195.00px;top:749.08px" width="27.80" height="20.85" viewBox="0 -1408 2048 1536"><path transform="scale(1,-1)" fill="#fff" d="M896 324Q896 378 888.5 424.5Q881 471 864.0 514.5Q847 558 813.0 583.0Q779 608 732 608Q668 544 576.0 544.0Q484 544 420 608Q373 608 339.0 583.0Q305 558 288.0 514.5Q271 471 263.5 424.5Q256 378 256 324Q256 269 287.5 230.5Q319 192 363 192H789Q833 192 864.5 230.5Q896 269 896 324ZM712.0 632.0Q768 688 768.0 768.0Q768 848 712.0 904.0Q656 960 576.0 960.0Q496 960 440.0 904.0Q384 848 384.0 768.0Q384 688 440.0 632.0Q496 576 576.0 576.0Q656 576 712.0 632.0ZM1792 288V352Q1792 366 1783.0 375.0Q1774 384 1760 384H1056Q1042 384 1033.0 375.0Q1024 366 1024 352V288Q1024 274 1033.0 265.0Q1042 256 1056 256H1760Q1774 256 1783.0 265.0Q1792 274 1792 288ZM1408 544V608Q1408 622 1399.0 631.0Q1390 640 1376 640H1056Q1042 640 1033.0 631.0Q1024 622 1024 608V544Q1024 530 1033.0 521.0Q1042 512 1056 512H1376Q1390 512 1399.0 521.0Q1408 530 1408 544ZM1792 544V608Q1792 622 1783.0 631.0Q1774 640 1760 640H1568Q1554 640 1545.0 631.0Q1536 622 1536 608V544Q1536 530 1545.0 521.0Q1554 512 1568 512H1760Q1774 512 1783.0 521.0Q1792 530 1792 544ZM1792 800V864Q1792 878 1783.0 887.0Q1774 896 1760 896H1056Q1042 896 1033.0 887.0Q1024 878 1024 864V800Q1024 786 1033.0 777.0Q1042 768 1056 768H1760Q1774 768 1783.0 777.0Q1792 786 1792 800ZM128 1152H1920V1248Q1920 1262 1911.0 1271.0Q1902 1280 1888 1280H160Q146 1280 137.0 1271.0Q128 1262 128 1248ZM2048 1248V32Q2048 -34 2001.0 -81.0Q1954 -128 1888 -128H160Q94 -128 47.0 -81.0Q0 -34 0 32V1248Q0 1314 47.0 1361.0Q94 1408 160 1408H1888Q1954 1408 2001.0 1361.0Q2048 1314 2048 1248Z"/></svg>
<div class="b" style="left:344px;top:705px;width:231px;height:87px;background:#fff;border-radius:5px;"></div>
<div class="t" style="left:-40.50px;width:1000px;text-align:center;top:717.00px;font-size:12.4px;line-height:12.4px;color:#555;transform:scaleX(0.8957);transform-origin:center center;">Recebimentos</div>
<div class="b" style="left:443.10px;top:743.00px;width:33.00px;height:33.00px;border-radius:50%;background:#feb72b"></div>
<svg class="b" style="left:446.80px;top:751.00px" width="25.80" height="17.20" viewBox="0 -1280 1920 1280"><path transform="scale(1,-1)" fill="#fff" d="M768 384H1152V480H1024V928H910L762 791L839 711Q881 748 894 768H896V480H768ZM1259.0 782.0Q1280 710 1280.0 640.0Q1280 570 1259.0 498.0Q1238 426 1199.5 364.0Q1161 302 1098.0 263.0Q1035 224 960.0 224.0Q885 224 822.0 263.0Q759 302 720.5 364.0Q682 426 661.0 498.0Q640 570 640.0 640.0Q640 710 661.0 782.0Q682 854 720.5 916.0Q759 978 822.0 1017.0Q885 1056 960.0 1056.0Q1035 1056 1098.0 1017.0Q1161 978 1199.5 916.0Q1238 854 1259.0 782.0ZM1792 384V896Q1686 896 1611.0 971.0Q1536 1046 1536 1152H384Q384 1046 309.0 971.0Q234 896 128 896V384Q234 384 309.0 309.0Q384 234 384 128H1536Q1536 234 1611.0 309.0Q1686 384 1792 384ZM1920 1216V64Q1920 38 1901.0 19.0Q1882 0 1856 0H64Q38 0 19.0 19.0Q0 38 0 64V1216Q0 1242 19.0 1261.0Q38 1280 64 1280H1856Q1882 1280 1901.0 1261.0Q1920 1242 1920 1216Z"/></svg>
<div class="b" style="left:595px;top:705px;width:231px;height:87px;background:#fff;border-radius:5px;"></div>
<div class="t" style="left:610.50px;top:716.00px;font-size:9.2px;line-height:9.2px;color:#555;transform:scaleX(0.9326);transform-origin:left center;">Clientes em</div>
<div class="t" style="left:610.50px;top:726.00px;font-size:9.2px;line-height:9.2px;color:#555;transform:scaleX(0.9402);transform-origin:left center;">Atraso</div>
<div class="b" style="left:611.10px;top:744.90px;width:33.20px;height:34.20px;border-radius:50%;background:#feb72b"></div>
<svg class="b" style="left:618.95px;top:752.00px" width="17.50" height="21.00" viewBox="0 -1408.0 1280 1536.0"><path transform="scale(1,-1)" fill="#fff" d="M1280 137Q1280 28 1217.5 -50.0Q1155 -128 1067 -128H213Q125 -128 62.5 -50.0Q0 28 0 137Q0 222 8.5 297.5Q17 373 40.0 449.5Q63 526 98.5 580.5Q134 635 192.5 669.5Q251 704 327 704Q458 576 640.0 576.0Q822 576 953 704Q1029 704 1087.5 669.5Q1146 635 1181.5 580.5Q1217 526 1240.0 449.5Q1263 373 1271.5 297.5Q1280 222 1280 137ZM911.5 1295.5Q1024 1183 1024.0 1024.0Q1024 865 911.5 752.5Q799 640 640.0 640.0Q481 640 368.5 752.5Q256 865 256.0 1024.0Q256 1183 368.5 1295.5Q481 1408 640.0 1408.0Q799 1408 911.5 1295.5Z"/></svg>
<div class="t" style="right:125.00px;top:716.00px;font-size:7.6px;line-height:7.6px;color:#212529;font-weight:bold;-webkit-text-stroke:0.25px;transform:scaleX(0.9664);transform-origin:right center;">Total</div>
<div class="t" style="right:125.00px;top:733.00px;font-size:14.2px;line-height:14.2px;color:#f0a040;font-weight:bold;-webkit-text-stroke:0.25px;transform:scaleX(1.0939);transform-origin:right center;">5.076.869,67</div>
<div class="t" style="right:220.70px;top:737.00px;font-size:10.0px;line-height:10.0px;color:#666;font-weight:bold;-webkit-text-stroke:0.25px;transform:scaleX(0.9074);transform-origin:right center;">R$</div>
<div class="t" style="right:125.00px;top:755.00px;font-size:7.6px;line-height:7.6px;color:#212529;font-weight:bold;-webkit-text-stroke:0.25px;transform:scaleX(0.9879);transform-origin:right center;">Quantidade</div>
<div class="t" style="right:125.00px;top:773.00px;font-size:10.6px;line-height:10.6px;color:#00964e;font-weight:bold;-webkit-text-stroke:0.25px;transform:scaleX(1.0799);transform-origin:right center;">433</div>
<div class="b" style="left:94px;top:802px;width:356px;height:87px;background:#fff;border-radius:5px;"></div>
<div class="t" style="left:-228.00px;width:1000px;text-align:center;top:812.00px;font-size:12.2px;line-height:12.2px;color:#212529;transform:scaleX(0.9025);transform-origin:center center;">Vendas Detalhado</div>
<div class="t" style="left:-228.00px;width:1000px;text-align:center;top:836.00px;font-size:9.2px;line-height:9.2px;color:#212529;transform:scaleX(0.9435);transform-origin:center center;">Consulta de vendas detalhada no período</div>
<div class="b" style="left:252.4px;top:851.3px;width:39.400000000000006px;height:23.5px;background:#ef8f26;border-radius:2px;border:1px solid #d9801e;box-sizing:border-box"></div>
<div class="t" style="left:-228.00px;width:1000px;text-align:center;top:858.00px;font-size:9.3px;line-height:9.3px;color:#fff;font-weight:bold;transform:scaleX(0.8436);transform-origin:center center;">Exibir</div>
<div class="b" style="left:470px;top:802px;width:356px;height:87px;background:#fff;border-radius:5px;"></div>
<div class="t" style="left:148.00px;width:1000px;text-align:center;top:812.00px;font-size:12.2px;line-height:12.2px;color:#555;transform:scaleX(0.9143);transform-origin:center center;">Recebimentos</div>
<div class="t" style="left:148.00px;width:1000px;text-align:center;top:836.00px;font-size:9.2px;line-height:9.2px;color:#212529;transform:scaleX(0.9482);transform-origin:center center;">Consulta os recebimentos no período</div>
<div class="b" style="left:628.4px;top:851.3px;width:39.39999999999998px;height:23.5px;background:#ef8f26;border-radius:2px;border:1px solid #d9801e;box-sizing:border-box"></div>
<div class="t" style="left:148.00px;width:1000px;text-align:center;top:858.00px;font-size:9.3px;line-height:9.3px;color:#fff;font-weight:bold;transform:scaleX(0.8436);transform-origin:center center;">Exibir</div>
<svg class="b" style="left:0;top:0;pointer-events:none" width="938" height="893" viewBox="0 0 938 893"><rect x="592.4" y="255.6" width="26.6" height="8.2" fill="rgba(75,192,192,0.2)" stroke="rgb(75,192,192)" stroke-width="0.7"/><text x="623.30" y="260.20" font-size="8" fill="#525252" text-anchor="start" dominant-baseline="middle">Loja 1</text><rect x="651" y="255.6" width="26.6" height="8.2" fill="rgba(255,159,64,0.2)" stroke="rgb(255,159,64)" stroke-width="0.7"/><text x="682.10" y="260.20" font-size="8" fill="#525252" text-anchor="start" dominant-baseline="middle">Loja 2</text><line x1="510.50" y1="421.60" x2="810.30" y2="421.60" stroke="rgba(0,0,0,0.25)" stroke-width="0.7"/><text x="510.30" y="421.90" font-size="8" fill="#525252" text-anchor="end" dominant-baseline="middle">0</text><line x1="510.50" y1="399.99" x2="810.30" y2="399.99" stroke="rgba(0,0,0,0.1)" stroke-width="0.7"/><text x="510.30" y="400.29" font-size="8" fill="#525252" text-anchor="end" dominant-baseline="middle">50000</text><line x1="510.50" y1="378.37" x2="810.30" y2="378.37" stroke="rgba(0,0,0,0.1)" stroke-width="0.7"/><text x="510.30" y="378.67" font-size="8" fill="#525252" text-anchor="end" dominant-baseline="middle">100000</text><line x1="510.50" y1="356.76" x2="810.30" y2="356.76" stroke="rgba(0,0,0,0.1)" stroke-width="0.7"/><text x="510.30" y="357.06" font-size="8" fill="#525252" text-anchor="end" dominant-baseline="middle">150000</text><line x1="510.50" y1="335.14" x2="810.30" y2="335.14" stroke="rgba(0,0,0,0.1)" stroke-width="0.7"/><text x="510.30" y="335.44" font-size="8" fill="#525252" text-anchor="end" dominant-baseline="middle">200000</text><line x1="510.50" y1="313.53" x2="810.30" y2="313.53" stroke="rgba(0,0,0,0.1)" stroke-width="0.7"/><text x="510.30" y="313.83" font-size="8" fill="#525252" text-anchor="end" dominant-baseline="middle">250000</text><line x1="510.50" y1="291.91" x2="810.30" y2="291.91" stroke="rgba(0,0,0,0.1)" stroke-width="0.7"/><text x="510.30" y="292.21" font-size="8" fill="#525252" text-anchor="end" dominant-baseline="middle">300000</text><line x1="510.50" y1="270.30" x2="810.30" y2="270.30" stroke="rgba(0,0,0,0.1)" stroke-width="0.7"/><text x="510.30" y="270.60" font-size="8" fill="#525252" text-anchor="end" dominant-baseline="middle">350000</text><line x1="517.00" y1="270.30" x2="517.00" y2="428.10" stroke="rgba(0,0,0,0.25)" stroke-width="0.7"/><text x="517.80" y="428.40" font-size="8" fill="#525252" text-anchor="end" dominant-baseline="middle" transform="rotate(-50 517.80 428.40)">1</text><line x1="537.23" y1="270.30" x2="537.23" y2="428.10" stroke="rgba(0,0,0,0.1)" stroke-width="0.7"/><text x="538.03" y="428.40" font-size="8" fill="#525252" text-anchor="end" dominant-baseline="middle" transform="rotate(-50 538.03 428.40)">3</text><line x1="557.46" y1="270.30" x2="557.46" y2="428.10" stroke="rgba(0,0,0,0.1)" stroke-width="0.7"/><text x="558.26" y="428.40" font-size="8" fill="#525252" text-anchor="end" dominant-baseline="middle" transform="rotate(-50 558.26 428.40)">5</text><line x1="577.68" y1="270.30" x2="577.68" y2="428.10" stroke="rgba(0,0,0,0.1)" stroke-width="0.7"/><text x="578.48" y="428.40" font-size="8" fill="#525252" text-anchor="end" dominant-baseline="middle" transform="rotate(-50 578.48 428.40)">7</text><line x1="597.91" y1="270.30" x2="597.91" y2="428.10" stroke="rgba(0,0,0,0.1)" stroke-width="0.7"/><text x="598.71" y="428.40" font-size="8" fill="#525252" text-anchor="end" dominant-baseline="middle" transform="rotate(-50 598.71 428.40)">9</text><line x1="618.14" y1="270.30" x2="618.14" y2="428.10" stroke="rgba(0,0,0,0.1)" stroke-width="0.7"/><text x="618.94" y="428.40" font-size="8" fill="#525252" text-anchor="end" dominant-baseline="middle" transform="rotate(-50 618.94 428.40)">11</text><line x1="638.37" y1="270.30" x2="638.37" y2="428.10" stroke="rgba(0,0,0,0.1)" stroke-width="0.7"/><text x="639.17" y="428.40" font-size="8" fill="#525252" text-anchor="end" dominant-baseline="middle" transform="rotate(-50 639.17 428.40)">13</text><line x1="658.59" y1="270.30" x2="658.59" y2="428.10" stroke="rgba(0,0,0,0.1)" stroke-width="0.7"/><text x="659.39" y="428.40" font-size="8" fill="#525252" text-anchor="end" dominant-baseline="middle" transform="rotate(-50 659.39 428.40)">15</text><line x1="678.82" y1="270.30" x2="678.82" y2="428.10" stroke="rgba(0,0,0,0.1)" stroke-width="0.7"/><text x="679.62" y="428.40" font-size="8" fill="#525252" text-anchor="end" dominant-baseline="middle" transform="rotate(-50 679.62 428.40)">17</text><line x1="699.05" y1="270.30" x2="699.05" y2="428.10" stroke="rgba(0,0,0,0.1)" stroke-width="0.7"/><text x="699.85" y="428.40" font-size="8" fill="#525252" text-anchor="end" dominant-baseline="middle" transform="rotate(-50 699.85 428.40)">19</text><line x1="719.28" y1="270.30" x2="719.28" y2="428.10" stroke="rgba(0,0,0,0.1)" stroke-width="0.7"/><text x="720.08" y="428.40" font-size="8" fill="#525252" text-anchor="end" dominant-baseline="middle" transform="rotate(-50 720.08 428.40)">21</text><line x1="739.50" y1="270.30" x2="739.50" y2="428.10" stroke="rgba(0,0,0,0.1)" stroke-width="0.7"/><text x="740.30" y="428.40" font-size="8" fill="#525252" text-anchor="end" dominant-baseline="middle" transform="rotate(-50 740.30 428.40)">23</text><line x1="759.73" y1="270.30" x2="759.73" y2="428.10" stroke="rgba(0,0,0,0.1)" stroke-width="0.7"/><text x="760.53" y="428.40" font-size="8" fill="#525252" text-anchor="end" dominant-baseline="middle" transform="rotate(-50 760.53 428.40)">25</text><line x1="779.96" y1="270.30" x2="779.96" y2="428.10" stroke="rgba(0,0,0,0.1)" stroke-width="0.7"/><text x="780.76" y="428.40" font-size="8" fill="#525252" text-anchor="end" dominant-baseline="middle" transform="rotate(-50 780.76 428.40)">27</text><line x1="800.19" y1="270.30" x2="800.19" y2="428.10" stroke="rgba(0,0,0,0.1)" stroke-width="0.7"/><text x="800.99" y="428.40" font-size="8" fill="#525252" text-anchor="end" dominant-baseline="middle" transform="rotate(-50 800.99 428.40)">29</text><path d="M517.0,421.6 L810.3,421.6" stroke="rgb(255,159,64)" stroke-width="1" fill="none"/><circle cx="517.00" cy="421.60" r="2" fill="rgba(255,159,64,0.2)" stroke="rgb(255,159,64)" stroke-width="0.7"/><circle cx="527.11" cy="421.60" r="2" fill="rgba(255,159,64,0.2)" stroke="rgb(255,159,64)" stroke-width="0.7"/><circle cx="537.23" cy="421.60" r="2" fill="rgba(255,159,64,0.2)" stroke="rgb(255,159,64)" stroke-width="0.7"/><circle cx="547.34" cy="421.60" r="2" fill="rgba(255,159,64,0.2)" stroke="rgb(255,159,64)" stroke-width="0.7"/><circle cx="557.46" cy="421.60" r="2" fill="rgba(255,159,64,0.2)" stroke="rgb(255,159,64)" stroke-width="0.7"/><circle cx="567.57" cy="421.60" r="2" fill="rgba(255,159,64,0.2)" stroke="rgb(255,159,64)" stroke-width="0.7"/><circle cx="577.68" cy="421.60" r="2" fill="rgba(255,159,64,0.2)" stroke="rgb(255,159,64)" stroke-width="0.7"/><circle cx="587.80" cy="421.60" r="2" fill="rgba(255,159,64,0.2)" stroke="rgb(255,159,64)" stroke-width="0.7"/><circle cx="597.91" cy="421.60" r="2" fill="rgba(255,159,64,0.2)" stroke="rgb(255,159,64)" stroke-width="0.7"/><circle cx="608.02" cy="421.60" r="2" fill="rgba(255,159,64,0.2)" stroke="rgb(255,159,64)" stroke-width="0.7"/><circle cx="618.14" cy="421.60" r="2" fill="rgba(255,159,64,0.2)" stroke="rgb(255,159,64)" stroke-width="0.7"/><circle cx="628.25" cy="421.60" r="2" fill="rgba(255,159,64,0.2)" stroke="rgb(255,159,64)" stroke-width="0.7"/><circle cx="638.37" cy="421.60" r="2" fill="rgba(255,159,64,0.2)" stroke="rgb(255,159,64)" stroke-width="0.7"/><circle cx="648.48" cy="421.60" r="2" fill="rgba(255,159,64,0.2)" stroke="rgb(255,159,64)" stroke-width="0.7"/><circle cx="658.59" cy="421.60" r="2" fill="rgba(255,159,64,0.2)" stroke="rgb(255,159,64)" stroke-width="0.7"/><circle cx="668.71" cy="421.60" r="2" fill="rgba(255,159,64,0.2)" stroke="rgb(255,159,64)" stroke-width="0.7"/><circle cx="678.82" cy="421.60" r="2" fill="rgba(255,159,64,0.2)" stroke="rgb(255,159,64)" stroke-width="0.7"/><circle cx="688.93" cy="421.60" r="2" fill="rgba(255,159,64,0.2)" stroke="rgb(255,159,64)" stroke-width="0.7"/><circle cx="699.05" cy="421.60" r="2" fill="rgba(255,159,64,0.2)" stroke="rgb(255,159,64)" stroke-width="0.7"/><circle cx="709.16" cy="421.60" r="2" fill="rgba(255,159,64,0.2)" stroke="rgb(255,159,64)" stroke-width="0.7"/><circle cx="719.28" cy="421.60" r="2" fill="rgba(255,159,64,0.2)" stroke="rgb(255,159,64)" stroke-width="0.7"/><circle cx="729.39" cy="421.60" r="2" fill="rgba(255,159,64,0.2)" stroke="rgb(255,159,64)" stroke-width="0.7"/><circle cx="739.50" cy="421.60" r="2" fill="rgba(255,159,64,0.2)" stroke="rgb(255,159,64)" stroke-width="0.7"/><circle cx="749.62" cy="421.60" r="2" fill="rgba(255,159,64,0.2)" stroke="rgb(255,159,64)" stroke-width="0.7"/><circle cx="759.73" cy="421.60" r="2" fill="rgba(255,159,64,0.2)" stroke="rgb(255,159,64)" stroke-width="0.7"/><circle cx="769.84" cy="421.60" r="2" fill="rgba(255,159,64,0.2)" stroke="rgb(255,159,64)" stroke-width="0.7"/><circle cx="779.96" cy="421.60" r="2" fill="rgba(255,159,64,0.2)" stroke="rgb(255,159,64)" stroke-width="0.7"/><circle cx="790.07" cy="421.60" r="2" fill="rgba(255,159,64,0.2)" stroke="rgb(255,159,64)" stroke-width="0.7"/><circle cx="800.19" cy="421.60" r="2" fill="rgba(255,159,64,0.2)" stroke="rgb(255,159,64)" stroke-width="0.7"/><circle cx="810.30" cy="421.60" r="2" fill="rgba(255,159,64,0.2)" stroke="rgb(255,159,64)" stroke-width="0.7"/><path d="M517.00,421.60 C521.05,382.61 522.43,330.36 527.11,324.12 C530.52,319.58 530.18,369.00 537.23,394.67 C538.27,398.48 544.99,394.69 547.34,397.82 C553.08,405.46 551.64,414.77 557.46,421.60 C559.73,421.60 567.00,421.60 567.57,421.60 C575.09,371.92 570.99,323.65 577.68,288.02 C579.08,280.61 584.59,303.35 587.80,314.00 C592.68,330.24 592.59,339.22 597.91,355.24 C600.68,363.60 604.41,366.87 608.02,374.96 C612.50,384.98 613.77,390.43 618.14,400.50 C621.86,409.08 622.60,415.71 628.25,421.60 C630.69,421.60 637.41,421.60 638.37,421.60 C645.50,395.36 641.55,375.25 648.48,347.16 C649.65,342.43 656.96,336.21 658.59,339.55 C665.05,352.71 662.01,372.97 668.71,388.40 C670.10,391.61 675.20,385.15 678.82,386.15 C683.29,387.40 686.48,389.71 688.93,394.02 C694.57,403.89 693.03,413.39 699.05,421.60 C701.12,421.60 708.58,421.60 709.16,421.60 C716.68,372.90 711.99,341.46 719.28,290.49 C720.08,284.88 728.52,275.46 729.39,280.16 C736.61,319.02 733.14,371.60 739.50,399.38 C741.23,406.93 745.86,367.52 749.62,368.47 C753.95,369.57 754.44,390.64 759.73,404.52 C762.53,411.89 764.49,417.08 769.84,421.60 C772.58,421.60 778.64,421.60 779.96,421.60 C786.73,404.47 783.54,389.30 790.07,370.46 C791.63,365.98 797.32,361.44 800.19,363.28 C805.41,366.64 806.25,375.40 810.30,383.47 L810.30,421.60 L517.00,421.60 Z" fill="rgba(75,192,192,0.2)" stroke="none"/><path d="M517.00,421.60 C521.05,382.61 522.43,330.36 527.11,324.12 C530.52,319.58 530.18,369.00 537.23,394.67 C538.27,398.48 544.99,394.69 547.34,397.82 C553.08,405.46 551.64,414.77 557.46,421.60 C559.73,421.60 567.00,421.60 567.57,421.60 C575.09,371.92 570.99,323.65 577.68,288.02 C579.08,280.61 584.59,303.35 587.80,314.00 C592.68,330.24 592.59,339.22 597.91,355.24 C600.68,363.60 604.41,366.87 608.02,374.96 C612.50,384.98 613.77,390.43 618.14,400.50 C621.86,409.08 622.60,415.71 628.25,421.60 C630.69,421.60 637.41,421.60 638.37,421.60 C645.50,395.36 641.55,375.25 648.48,347.16 C649.65,342.43 656.96,336.21 658.59,339.55 C665.05,352.71 662.01,372.97 668.71,388.40 C670.10,391.61 675.20,385.15 678.82,386.15 C683.29,387.40 686.48,389.71 688.93,394.02 C694.57,403.89 693.03,413.39 699.05,421.60 C701.12,421.60 708.58,421.60 709.16,421.60 C716.68,372.90 711.99,341.46 719.28,290.49 C720.08,284.88 728.52,275.46 729.39,280.16 C736.61,319.02 733.14,371.60 739.50,399.38 C741.23,406.93 745.86,367.52 749.62,368.47 C753.95,369.57 754.44,390.64 759.73,404.52 C762.53,411.89 764.49,417.08 769.84,421.60 C772.58,421.60 778.64,421.60 779.96,421.60 C786.73,404.47 783.54,389.30 790.07,370.46 C791.63,365.98 797.32,361.44 800.19,363.28 C805.41,366.64 806.25,375.40 810.30,383.47" fill="none" stroke="rgb(75,192,192)" stroke-width="0.7"/><circle cx="517.00" cy="421.60" r="2" fill="rgba(75,192,192,0.2)" stroke="rgb(75,192,192)" stroke-width="0.7"/><circle cx="527.11" cy="324.12" r="2" fill="rgba(75,192,192,0.2)" stroke="rgb(75,192,192)" stroke-width="0.7"/><circle cx="537.23" cy="394.67" r="2" fill="rgba(75,192,192,0.2)" stroke="rgb(75,192,192)" stroke-width="0.7"/><circle cx="547.34" cy="397.82" r="2" fill="rgba(75,192,192,0.2)" stroke="rgb(75,192,192)" stroke-width="0.7"/><circle cx="557.46" cy="421.60" r="2" fill="rgba(75,192,192,0.2)" stroke="rgb(75,192,192)" stroke-width="0.7"/><circle cx="567.57" cy="421.60" r="2" fill="rgba(75,192,192,0.2)" stroke="rgb(75,192,192)" stroke-width="0.7"/><circle cx="577.68" cy="288.02" r="2" fill="rgba(75,192,192,0.2)" stroke="rgb(75,192,192)" stroke-width="0.7"/><circle cx="587.80" cy="314.00" r="2" fill="rgba(75,192,192,0.2)" stroke="rgb(75,192,192)" stroke-width="0.7"/><circle cx="597.91" cy="355.24" r="2" fill="rgba(75,192,192,0.2)" stroke="rgb(75,192,192)" stroke-width="0.7"/><circle cx="608.02" cy="374.96" r="2" fill="rgba(75,192,192,0.2)" stroke="rgb(75,192,192)" stroke-width="0.7"/><circle cx="618.14" cy="400.50" r="2" fill="rgba(75,192,192,0.2)" stroke="rgb(75,192,192)" stroke-width="0.7"/><circle cx="628.25" cy="421.60" r="2" fill="rgba(75,192,192,0.2)" stroke="rgb(75,192,192)" stroke-width="0.7"/><circle cx="638.37" cy="421.60" r="2" fill="rgba(75,192,192,0.2)" stroke="rgb(75,192,192)" stroke-width="0.7"/><circle cx="648.48" cy="347.16" r="2" fill="rgba(75,192,192,0.2)" stroke="rgb(75,192,192)" stroke-width="0.7"/><circle cx="658.59" cy="339.55" r="2" fill="rgba(75,192,192,0.2)" stroke="rgb(75,192,192)" stroke-width="0.7"/><circle cx="668.71" cy="388.40" r="2" fill="rgba(75,192,192,0.2)" stroke="rgb(75,192,192)" stroke-width="0.7"/><circle cx="678.82" cy="386.15" r="2" fill="rgba(75,192,192,0.2)" stroke="rgb(75,192,192)" stroke-width="0.7"/><circle cx="688.93" cy="394.02" r="2" fill="rgba(75,192,192,0.2)" stroke="rgb(75,192,192)" stroke-width="0.7"/><circle cx="699.05" cy="421.60" r="2" fill="rgba(75,192,192,0.2)" stroke="rgb(75,192,192)" stroke-width="0.7"/><circle cx="709.16" cy="421.60" r="2" fill="rgba(75,192,192,0.2)" stroke="rgb(75,192,192)" stroke-width="0.7"/><circle cx="719.28" cy="290.49" r="2" fill="rgba(75,192,192,0.2)" stroke="rgb(75,192,192)" stroke-width="0.7"/><circle cx="729.39" cy="280.16" r="2" fill="rgba(75,192,192,0.2)" stroke="rgb(75,192,192)" stroke-width="0.7"/><circle cx="739.50" cy="399.38" r="2" fill="rgba(75,192,192,0.2)" stroke="rgb(75,192,192)" stroke-width="0.7"/><circle cx="749.62" cy="368.47" r="2" fill="rgba(75,192,192,0.2)" stroke="rgb(75,192,192)" stroke-width="0.7"/><circle cx="759.73" cy="404.52" r="2" fill="rgba(75,192,192,0.2)" stroke="rgb(75,192,192)" stroke-width="0.7"/><circle cx="769.84" cy="421.60" r="2" fill="rgba(75,192,192,0.2)" stroke="rgb(75,192,192)" stroke-width="0.7"/><circle cx="779.96" cy="421.60" r="2" fill="rgba(75,192,192,0.2)" stroke="rgb(75,192,192)" stroke-width="0.7"/><circle cx="790.07" cy="370.46" r="2" fill="rgba(75,192,192,0.2)" stroke="rgb(75,192,192)" stroke-width="0.7"/><circle cx="800.19" cy="363.28" r="2" fill="rgba(75,192,192,0.2)" stroke="rgb(75,192,192)" stroke-width="0.7"/><circle cx="810.30" cy="383.47" r="2" fill="rgba(75,192,192,0.2)" stroke="rgb(75,192,192)" stroke-width="0.7"/><rect x="596.8" y="501.7" width="26.8" height="8.1" fill="rgba(75,192,192,0.2)" stroke="rgb(75,192,192)" stroke-width="0.7"/><text x="627.50" y="506.20" font-size="8" fill="#525252" text-anchor="start" dominant-baseline="middle">Vendedores - Loja 1</text><line x1="511.00" y1="646.40" x2="814.50" y2="646.40" stroke="rgba(0,0,0,0.25)" stroke-width="0.7"/><text x="510.30" y="646.70" font-size="8" fill="#525252" text-anchor="end" dominant-baseline="middle">0</text><line x1="511.00" y1="630.12" x2="814.50" y2="630.12" stroke="rgba(0,0,0,0.1)" stroke-width="0.7"/><text x="510.30" y="630.42" font-size="8" fill="#525252" text-anchor="end" dominant-baseline="middle">100000</text><line x1="511.00" y1="613.85" x2="814.50" y2="613.85" stroke="rgba(0,0,0,0.1)" stroke-width="0.7"/><text x="510.30" y="614.15" font-size="8" fill="#525252" text-anchor="end" dominant-baseline="middle">200000</text><line x1="511.00" y1="597.58" x2="814.50" y2="597.58" stroke="rgba(0,0,0,0.1)" stroke-width="0.7"/><text x="510.30" y="597.88" font-size="8" fill="#525252" text-anchor="end" dominant-baseline="middle">300000</text><line x1="511.00" y1="581.30" x2="814.50" y2="581.30" stroke="rgba(0,0,0,0.1)" stroke-width="0.7"/><text x="510.30" y="581.60" font-size="8" fill="#525252" text-anchor="end" dominant-baseline="middle">400000</text><line x1="511.00" y1="565.02" x2="814.50" y2="565.02" stroke="rgba(0,0,0,0.1)" stroke-width="0.7"/><text x="510.30" y="565.32" font-size="8" fill="#525252" text-anchor="end" dominant-baseline="middle">500000</text><line x1="511.00" y1="548.75" x2="814.50" y2="548.75" stroke="rgba(0,0,0,0.1)" stroke-width="0.7"/><text x="510.30" y="549.05" font-size="8" fill="#525252" text-anchor="end" dominant-baseline="middle">600000</text><line x1="511.00" y1="532.48" x2="814.50" y2="532.48" stroke="rgba(0,0,0,0.1)" stroke-width="0.7"/><text x="510.30" y="532.77" font-size="8" fill="#525252" text-anchor="end" dominant-baseline="middle">700000</text><line x1="511.00" y1="516.20" x2="814.50" y2="516.20" stroke="rgba(0,0,0,0.1)" stroke-width="0.7"/><text x="510.30" y="516.50" font-size="8" fill="#525252" text-anchor="end" dominant-baseline="middle">800000</text><line x1="517.50" y1="516.20" x2="517.50" y2="652.90" stroke="rgba(0,0,0,0.25)" stroke-width="0.7"/><line x1="540.35" y1="516.20" x2="540.35" y2="652.90" stroke="rgba(0,0,0,0.1)" stroke-width="0.7"/><line x1="563.19" y1="516.20" x2="563.19" y2="652.90" stroke="rgba(0,0,0,0.1)" stroke-width="0.7"/><line x1="586.04" y1="516.20" x2="586.04" y2="652.90" stroke="rgba(0,0,0,0.1)" stroke-width="0.7"/><line x1="608.88" y1="516.20" x2="608.88" y2="652.90" stroke="rgba(0,0,0,0.1)" stroke-width="0.7"/><line x1="631.73" y1="516.20" x2="631.73" y2="652.90" stroke="rgba(0,0,0,0.1)" stroke-width="0.7"/><line x1="654.58" y1="516.20" x2="654.58" y2="652.90" stroke="rgba(0,0,0,0.1)" stroke-width="0.7"/><line x1="677.42" y1="516.20" x2="677.42" y2="652.90" stroke="rgba(0,0,0,0.1)" stroke-width="0.7"/><line x1="700.27" y1="516.20" x2="700.27" y2="652.90" stroke="rgba(0,0,0,0.1)" stroke-width="0.7"/><line x1="723.12" y1="516.20" x2="723.12" y2="652.90" stroke="rgba(0,0,0,0.1)" stroke-width="0.7"/><line x1="745.96" y1="516.20" x2="745.96" y2="652.90" stroke="rgba(0,0,0,0.1)" stroke-width="0.7"/><line x1="768.81" y1="516.20" x2="768.81" y2="652.90" stroke="rgba(0,0,0,0.1)" stroke-width="0.7"/><line x1="791.65" y1="516.20" x2="791.65" y2="652.90" stroke="rgba(0,0,0,0.1)" stroke-width="0.7"/><line x1="814.50" y1="516.20" x2="814.50" y2="652.90" stroke="rgba(0,0,0,0.1)" stroke-width="0.7"/><path d="M520.70,646.40 L520.70,643.88 L537.15,643.88 L537.15,646.40" fill="rgba(75,192,192,0.2)" stroke="rgb(75,192,192)" stroke-width="0.7"/><text x="529.12" y="653.70" font-size="8" fill="#525252" text-anchor="end" dominant-baseline="middle" transform="rotate(-36 529.12 653.70)">ALMIR</text><text x="551.97" y="653.70" font-size="8" fill="#525252" text-anchor="end" dominant-baseline="middle" transform="rotate(-36 551.97 653.70)">MAURICIO</text><path d="M566.39,646.40 L566.39,574.55 L582.84,574.55 L582.84,646.40" fill="rgba(75,192,192,0.2)" stroke="rgb(75,192,192)" stroke-width="0.7"/><text x="574.82" y="653.70" font-size="8" fill="#525252" text-anchor="end" dominant-baseline="middle" transform="rotate(-36 574.82 653.70)">null</text><path d="M589.24,646.40 L589.24,608.32 L605.69,608.32 L605.69,646.40" fill="rgba(75,192,192,0.2)" stroke="rgb(75,192,192)" stroke-width="0.7"/><text x="597.66" y="653.70" font-size="8" fill="#525252" text-anchor="end" dominant-baseline="middle" transform="rotate(-36 597.66 653.70)">null</text><path d="M612.08,646.40 L612.08,645.50 L628.53,645.50 L628.53,646.40" fill="rgba(75,192,192,0.2)" stroke="rgb(75,192,192)" stroke-width="0.7"/><text x="620.51" y="653.70" font-size="8" fill="#525252" text-anchor="end" dominant-baseline="middle" transform="rotate(-36 620.51 653.70)">DAVI</text><path d="M634.93,646.40 L634.93,601.40 L651.38,601.40 L651.38,646.40" fill="rgba(75,192,192,0.2)" stroke="rgb(75,192,192)" stroke-width="0.7"/><text x="643.35" y="653.70" font-size="8" fill="#525252" text-anchor="end" dominant-baseline="middle" transform="rotate(-36 643.35 653.70)">REMERSON</text><path d="M657.78,646.40 L657.78,613.28 L674.22,613.28 L674.22,646.40" fill="rgba(75,192,192,0.2)" stroke="rgb(75,192,192)" stroke-width="0.7"/><text x="666.20" y="653.70" font-size="8" fill="#525252" text-anchor="end" dominant-baseline="middle" transform="rotate(-36 666.20 653.70)">MATEUS</text><path d="M680.62,646.40 L680.62,522.55 L697.07,522.55 L697.07,646.40" fill="rgba(75,192,192,0.2)" stroke="rgb(75,192,192)" stroke-width="0.7"/><text x="689.05" y="653.70" font-size="8" fill="#525252" text-anchor="end" dominant-baseline="middle" transform="rotate(-36 689.05 653.70)">LEVY</text><path d="M703.47,646.40 L703.47,643.23 L719.92,643.23 L719.92,646.40" fill="rgba(75,192,192,0.2)" stroke="rgb(75,192,192)" stroke-width="0.7"/><text x="711.89" y="653.70" font-size="8" fill="#525252" text-anchor="end" dominant-baseline="middle" transform="rotate(-36 711.89 653.70)">null</text><path d="M726.31,646.40 L726.31,561.28 L742.76,561.28 L742.76,646.40" fill="rgba(75,192,192,0.2)" stroke="rgb(75,192,192)" stroke-width="0.7"/><text x="734.74" y="653.70" font-size="8" fill="#525252" text-anchor="end" dominant-baseline="middle" transform="rotate(-36 734.74 653.70)">GUILHERME</text><path d="M749.16,646.40 L749.16,572.35 L765.61,572.35 L765.61,646.40" fill="rgba(75,192,192,0.2)" stroke="rgb(75,192,192)" stroke-width="0.7"/><text x="757.58" y="653.70" font-size="8" fill="#525252" text-anchor="end" dominant-baseline="middle" transform="rotate(-36 757.58 653.70)">EVERSON</text><path d="M772.01,646.40 L772.01,638.43 L788.46,638.43 L788.46,646.40" fill="rgba(75,192,192,0.2)" stroke="rgb(75,192,192)" stroke-width="0.7"/><text x="780.43" y="653.70" font-size="8" fill="#525252" text-anchor="end" dominant-baseline="middle" transform="rotate(-36 780.43 653.70)">DIOGENES</text><path d="M794.85,646.40 L794.85,646.16 L811.30,646.16 L811.30,646.40" fill="rgba(75,192,192,0.2)" stroke="rgb(75,192,192)" stroke-width="0.7"/><text x="803.28" y="653.70" font-size="8" fill="#525252" text-anchor="end" dominant-baseline="middle" transform="rotate(-36 803.28 653.70)">null</text></svg>
<div class="b" style="left:292px;top:906px;width:860px;height:60px;background:#99a;box-shadow:0 0 40px 8px rgba(40,50,60,.38)"></div>
</body></html>
